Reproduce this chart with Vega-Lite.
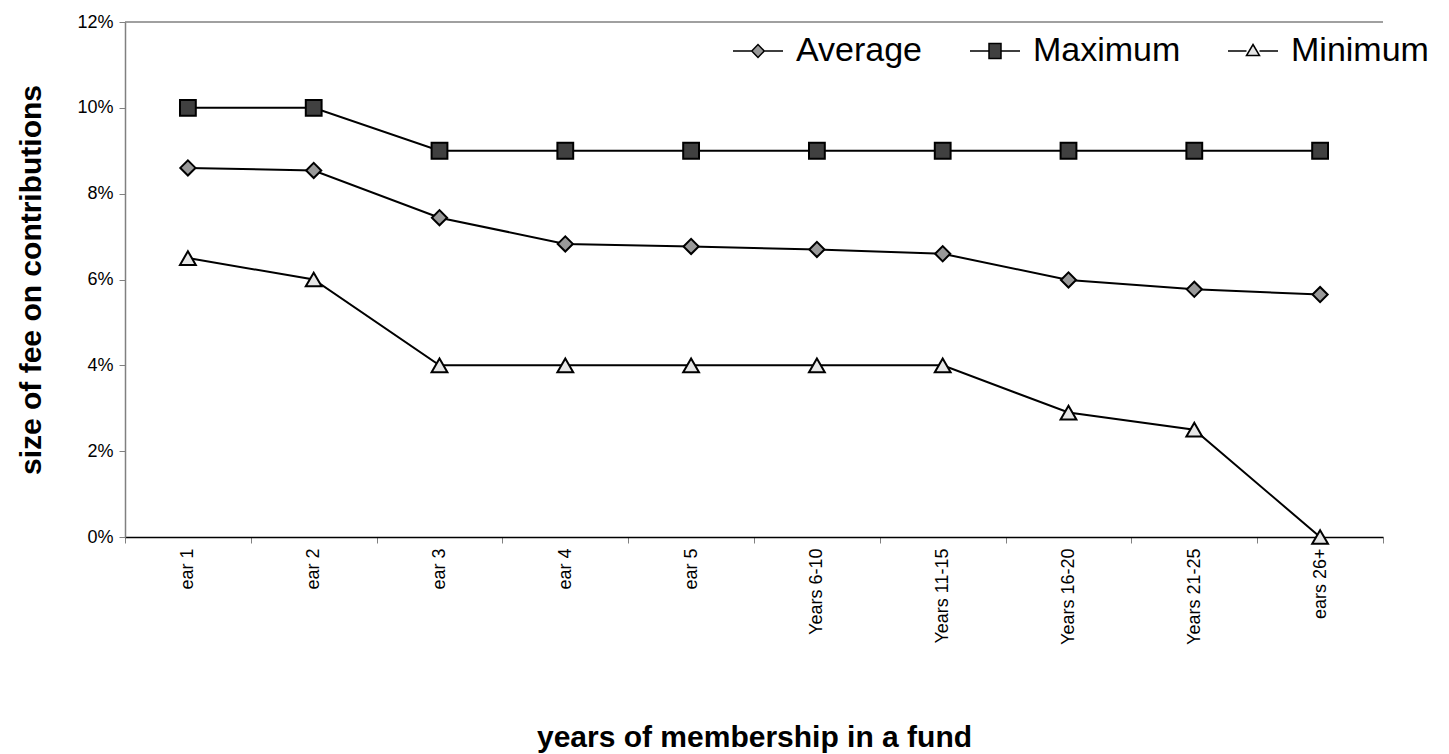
{
  "$schema": "https://vega.github.io/schema/vega-lite/v6.json",
  "width": 1258,
  "height": 515,
  "autosize": {"type": "none"},
  "padding": {"left": 125, "top": 22, "right": 66, "bottom": 217},
  "background": "white",
  "config": {
    "font": "Liberation Sans",
    "view": {"stroke": null},
    "axis": {"labelColor": "black", "titleColor": "black", "labelFont": "Liberation Sans", "titleFont": "Liberation Sans",
      "labelFontSize": 18, "titleFontSize": 30, "titleFontWeight": "bold", "tickSize": 6, "tickColor": "#808080", "grid": false, "domainWidth": 1.5}
  },
  "datasets": {
    "fees": [
      {"cat": "ear 1", "series": "Average", "value": 0.086},
      {"cat": "ear 2", "series": "Average", "value": 0.0854},
      {"cat": "ear 3", "series": "Average", "value": 0.0744},
      {"cat": "ear 4", "series": "Average", "value": 0.0683},
      {"cat": "ear 5", "series": "Average", "value": 0.0677},
      {"cat": "Years 6-10", "series": "Average", "value": 0.067},
      {"cat": "Years 11-15", "series": "Average", "value": 0.066},
      {"cat": "Years 16-20", "series": "Average", "value": 0.0599},
      {"cat": "Years 21-25", "series": "Average", "value": 0.0577},
      {"cat": "ears 26+", "series": "Average", "value": 0.0565},
      {"cat": "ear 1", "series": "Maximum", "value": 0.10},
      {"cat": "ear 2", "series": "Maximum", "value": 0.10},
      {"cat": "ear 3", "series": "Maximum", "value": 0.09},
      {"cat": "ear 4", "series": "Maximum", "value": 0.09},
      {"cat": "ear 5", "series": "Maximum", "value": 0.09},
      {"cat": "Years 6-10", "series": "Maximum", "value": 0.09},
      {"cat": "Years 11-15", "series": "Maximum", "value": 0.09},
      {"cat": "Years 16-20", "series": "Maximum", "value": 0.09},
      {"cat": "Years 21-25", "series": "Maximum", "value": 0.09},
      {"cat": "ears 26+", "series": "Maximum", "value": 0.09},
      {"cat": "ear 1", "series": "Minimum", "value": 0.065},
      {"cat": "ear 2", "series": "Minimum", "value": 0.06},
      {"cat": "ear 3", "series": "Minimum", "value": 0.04},
      {"cat": "ear 4", "series": "Minimum", "value": 0.04},
      {"cat": "ear 5", "series": "Minimum", "value": 0.04},
      {"cat": "Years 6-10", "series": "Minimum", "value": 0.04},
      {"cat": "Years 11-15", "series": "Minimum", "value": 0.04},
      {"cat": "Years 16-20", "series": "Minimum", "value": 0.029},
      {"cat": "Years 21-25", "series": "Minimum", "value": 0.025},
      {"cat": "ears 26+", "series": "Minimum", "value": 0.0}
    ],
    "top": [{"v": 0.12}]
  },
  "layer": [
    {
      "data": {"name": "top"},
      "mark": {"type": "rule", "color": "#808080", "strokeWidth": 1.5},
      "encoding": {
        "y": {"field": "v", "type": "quantitative", "scale": {"domain": [0, 0.12], "nice": false},
          "axis": {"title": "size of fee on contributions", "titlePadding": 30,
            "format": ".0%", "values": [0, 0.02, 0.04, 0.06, 0.08, 0.1, 0.12], "labelPadding": 6, "domainColor": "#808080"}}
      }
    },
    {
      "data": {"name": "fees"},
      "mark": {"type": "line", "color": "black", "strokeWidth": 2},
      "encoding": {
        "x": {"field": "cat", "type": "nominal", "sort": ["ear 1", "ear 2", "ear 3", "ear 4", "ear 5", "Years 6-10", "Years 11-15", "Years 16-20", "Years 21-25", "ears 26+"],
          "scale": {"type": "band", "paddingInner": 0, "paddingOuter": 0},
          "axis": {"title": "years of membership in a fund", "titlePadding": 78,
            "labelAngle": -90, "labelPadding": 5, "tickBand": "extent", "domainColor": "black"}},
        "y": {"field": "value", "type": "quantitative"},
        "detail": {"field": "series", "type": "nominal"}
      }
    },
    {
      "data": {"name": "fees"},
      "transform": [{"filter": "datum.series === 'Average'"}],
      "mark": {"type": "point", "filled": true, "shape": "diamond", "stroke": "black", "strokeWidth": 2, "size": 230, "opacity": 1},
      "encoding": {
        "x": {"field": "cat", "type": "nominal", "sort": ["ear 1", "ear 2", "ear 3", "ear 4", "ear 5", "Years 6-10", "Years 11-15", "Years 16-20", "Years 21-25", "ears 26+"]},
        "y": {"field": "value", "type": "quantitative"},
        "fill": {"field": "series", "type": "nominal",
          "scale": {"domain": ["Average", "Maximum", "Minimum"], "range": ["#999999", "#404040", "#e6e6e6"]},
          "legend": {
            "title": null, "orient": "none", "direction": "horizontal", "legendX": 607, "legendY": 3, "padding": 0,
            "labelFontSize": 34, "labelColor": "black", "labelFont": "Liberation Sans", "labelOffset": 12, "columnPadding": 44,
            "symbolSize": 2500, "symbolStrokeColor": "black", "symbolStrokeWidth": 1.5, "symbolOpacity": 1,
            "encode": {"symbols": {"update": {
              "stroke": {"value": "black"},
              "shape": {"signal": "datum.value === 'Average' ? 'M-1,0H-0.25M0.25,0H1M-0.25,0L0,-0.26L0.25,0L0,0.26Z' : datum.value === 'Maximum' ? 'M-1,0H-0.24M0.24,0H1M-0.24,-0.3H0.24V0.3H-0.24Z' : 'M-1,0H-0.26M0.26,0H1M0,-0.26L0.26,0.18H-0.26Z'"}
            }}}
          }}
      }
    },
    {
      "data": {"name": "fees"},
      "transform": [{"filter": "datum.series === 'Maximum'"}],
      "mark": {"type": "point", "filled": true, "shape": "square", "stroke": "black", "strokeWidth": 2, "size": 250, "opacity": 1},
      "encoding": {
        "x": {"field": "cat", "type": "nominal", "sort": ["ear 1", "ear 2", "ear 3", "ear 4", "ear 5", "Years 6-10", "Years 11-15", "Years 16-20", "Years 21-25", "ears 26+"]},
        "y": {"field": "value", "type": "quantitative"},
        "fill": {"field": "series", "type": "nominal"}
      }
    },
    {
      "data": {"name": "fees"},
      "transform": [{"filter": "datum.series === 'Minimum'"}],
      "mark": {"type": "point", "filled": true, "shape": "triangle-up", "stroke": "black", "strokeWidth": 2, "size": 250, "opacity": 1},
      "encoding": {
        "x": {"field": "cat", "type": "nominal", "sort": ["ear 1", "ear 2", "ear 3", "ear 4", "ear 5", "Years 6-10", "Years 11-15", "Years 16-20", "Years 21-25", "ears 26+"]},
        "y": {"field": "value", "type": "quantitative"},
        "fill": {"field": "series", "type": "nominal"}
      }
    }
  ]
}
